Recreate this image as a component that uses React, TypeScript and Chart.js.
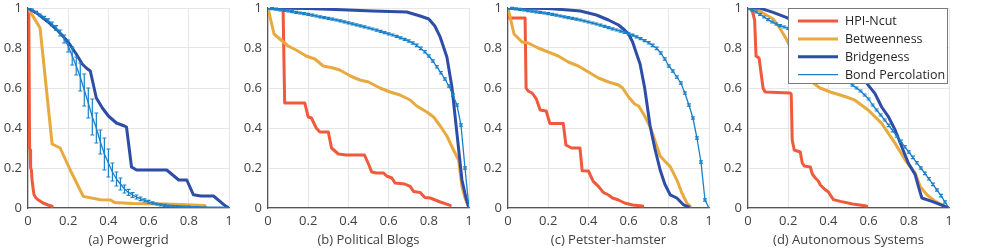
import React, { useEffect, useRef } from "react";
import { Chart, registerables } from "chart.js";

Chart.register(...registerables);

// ---------- shared ----------
const seriesNames = ["HPI-Ncut", "Betweenness", "Bridgeness", "Bond Percolation"];
const seriesColors = ["#F05A3C", "#E8A93E", "#2E4DA7", "#1A80C8"];
const panelTitles = ["(a) Powergrid", "(b) Political Blogs", "(c) Petster-hamster", "(d) Autonomous Systems"];
const tickValues = [0, 0.2, 0.4, 0.6, 0.8, 1];
const tickLabels = ["0", "0.2", "0.4", "0.6", "0.8", "1"];

const bondX = [0, 0.02, 0.04, 0.06, 0.08, 0.1, 0.12, 0.14, 0.16, 0.18, 0.2, 0.22, 0.24, 0.26, 0.28, 0.3, 0.32, 0.34, 0.36, 0.38, 0.4, 0.42, 0.44, 0.46, 0.48, 0.5, 0.52, 0.54, 0.56, 0.58, 0.6, 0.62, 0.64, 0.66, 0.68, 0.7, 0.72, 0.74, 0.76, 0.78, 0.8, 0.82, 0.84, 0.86, 0.88, 0.9, 0.92, 0.94, 0.96, 0.98, 1];

// ---------- (a) Powergrid ----------
const aHpiX = [0, 0.004, 0.008, 0.01, 0.013, 0.017, 0.02, 0.025, 0.03, 0.04, 0.05, 0.075, 0.1, 0.12];
const aHpiY = [1, 0.97, 0.3, 0.29, 0.2, 0.19, 0.14, 0.1, 0.066, 0.05, 0.041, 0.025, 0.015, 0.009];
const aBetX = [0, 0.06, 0.12, 0.16, 0.21, 0.275, 0.36, 0.41, 0.43, 0.52, 0.69, 0.88];
const aBetY = [1, 0.9, 0.32, 0.3, 0.19, 0.058, 0.041, 0.04, 0.028, 0.022, 0.02, 0.012];
const aBriX = [0, 0.05, 0.1, 0.15, 0.2, 0.24, 0.27, 0.29, 0.31, 0.34, 0.37, 0.4, 0.44, 0.48, 0.49, 0.515, 0.54, 0.69, 0.75, 0.79, 0.823, 0.86, 0.923, 0.98, 1];
const aBriY = [1, 0.97, 0.93, 0.885, 0.83, 0.77, 0.72, 0.7, 0.685, 0.55, 0.5, 0.46, 0.425, 0.41, 0.405, 0.205, 0.19, 0.19, 0.14, 0.14, 0.066, 0.06, 0.06, 0.012, 0];
const aBondY = [1, 0.99, 0.978, 0.965, 0.952, 0.938, 0.92, 0.9, 0.875, 0.845, 0.81, 0.76, 0.71, 0.655, 0.59, 0.525, 0.455, 0.4, 0.33, 0.27, 0.225, 0.18, 0.145, 0.12, 0.095, 0.078, 0.065, 0.055, 0.046, 0.038, 0.031, 0.025, 0.02, 0.016, 0.013, 0.011, 0.009, 0.008, 0.007, 0.006, 0.005, 0.004, 0.004, 0.003, 0.003, 0.002, 0.002, 0.001, 0.001, 0.0005, 0];
const aBondErr = [0, 0.005, 0.005, 0.005, 0.006, 0.008, 0.01, 0.012, 0.015, 0.02, 0.03, 0.045, 0.045, 0.07, 0.08, 0.075, 0.09, 0.075, 0.06, 0.08, 0.07, 0.045, 0.035, 0.03, 0.02, 0.015, 0.012, 0.01, 0.009, 0.008, 0.007, 0.006, 0.005, 0.005, 0.005, 0.004, 0.004, 0.004, 0.004, 0.004, 0.004, 0.003, 0.003, 0.003, 0.003, 0.003, 0.003, 0.003, 0.003, 0.003, 0];

// ---------- (b) Political Blogs ----------
const bHpiX = [0, 0.075, 0.083, 0.183, 0.2, 0.216, 0.24, 0.258, 0.3, 0.316, 0.35, 0.39, 0.48, 0.5, 0.516, 0.54, 0.575, 0.59, 0.616, 0.632, 0.68, 0.707, 0.724, 0.757, 0.78, 0.807, 0.857, 0.907];
const bHpiY = [1, 1, 0.525, 0.525, 0.455, 0.45, 0.4, 0.38, 0.38, 0.3, 0.27, 0.265, 0.265, 0.22, 0.18, 0.175, 0.175, 0.16, 0.15, 0.125, 0.12, 0.108, 0.083, 0.078, 0.053, 0.05, 0.03, 0.013];
const bBetX = [0, 0.03, 0.1, 0.14, 0.19, 0.233, 0.275, 0.324, 0.357, 0.41, 0.457, 0.5, 0.557, 0.607, 0.657, 0.707, 0.74, 0.79, 0.824, 0.857, 0.89, 0.923, 0.948, 0.965, 0.98, 1];
const bBetY = [1, 0.87, 0.81, 0.79, 0.76, 0.745, 0.71, 0.7, 0.69, 0.66, 0.64, 0.63, 0.6, 0.58, 0.565, 0.54, 0.51, 0.48, 0.455, 0.41, 0.36, 0.29, 0.24, 0.108, 0.05, 0];
const bBriX = [0, 0.2, 0.4, 0.52, 0.69, 0.757, 0.8, 0.83, 0.857, 0.89, 0.915, 0.94, 0.965, 0.985, 1];
const bBriY = [1, 0.998, 0.99, 0.985, 0.98, 0.96, 0.945, 0.91, 0.854, 0.755, 0.605, 0.373, 0.14, 0.05, 0];
const bBondY = [1, 0.997, 0.994, 0.991, 0.988, 0.985, 0.982, 0.978, 0.975, 0.972, 0.968, 0.964, 0.96, 0.956, 0.952, 0.948, 0.944, 0.94, 0.936, 0.931, 0.926, 0.921, 0.916, 0.911, 0.906, 0.9, 0.895, 0.889, 0.883, 0.877, 0.871, 0.865, 0.858, 0.851, 0.843, 0.835, 0.825, 0.813, 0.798, 0.781, 0.76, 0.735, 0.706, 0.676, 0.645, 0.61, 0.565, 0.515, 0.415, 0.2, 0];
const smallErr = [0, 0.005, 0.005, 0.005, 0.005, 0.005, 0.005, 0.005, 0.005, 0.005, 0.005, 0.005, 0.005, 0.005, 0.005, 0.005, 0.005, 0.005, 0.005, 0.005, 0.005, 0.005, 0.005, 0.005, 0.005, 0.005, 0.005, 0.005, 0.005, 0.005, 0.005, 0.005, 0.005, 0.005, 0.005, 0.006, 0.006, 0.006, 0.006, 0.006, 0.006, 0.006, 0.006, 0.006, 0.006, 0.006, 0.006, 0.006, 0.006, 0.006, 0];

// ---------- (c) Petster-hamster ----------
const cHpiX = [0, 0.005, 0.085, 0.09, 0.1, 0.12, 0.14, 0.16, 0.19, 0.208, 0.275, 0.288, 0.316, 0.358, 0.369, 0.4, 0.424, 0.45, 0.474, 0.5, 0.52, 0.55, 0.58, 0.62, 0.67];
const cHpiY = [1, 0.95, 0.95, 0.6, 0.585, 0.575, 0.547, 0.49, 0.485, 0.423, 0.423, 0.315, 0.3, 0.3, 0.186, 0.185, 0.133, 0.108, 0.078, 0.065, 0.05, 0.04, 0.025, 0.015, 0.01];
const cBetX = [0, 0.03, 0.07, 0.1, 0.15, 0.2, 0.25, 0.3, 0.35, 0.4, 0.45, 0.5, 0.55, 0.57, 0.6, 0.63, 0.65, 0.68, 0.707, 0.73, 0.757, 0.78, 0.807, 0.84, 0.865, 0.89, 0.906];
const cBetY = [1, 0.87, 0.83, 0.825, 0.8, 0.78, 0.76, 0.73, 0.71, 0.68, 0.65, 0.63, 0.615, 0.6, 0.555, 0.52, 0.51, 0.46, 0.406, 0.34, 0.26, 0.235, 0.207, 0.141, 0.075, 0.025, 0.01];
const cBriX = [0, 0.2, 0.3, 0.36, 0.44, 0.5, 0.55, 0.58, 0.6, 0.62, 0.64, 0.657, 0.68, 0.707, 0.73, 0.757, 0.78, 0.807, 0.84, 0.873, 0.9];
const cBriY = [1, 0.998, 0.99, 0.985, 0.965, 0.94, 0.915, 0.89, 0.87, 0.83, 0.77, 0.72, 0.6, 0.41, 0.3, 0.19, 0.12, 0.066, 0.05, 0.016, 0.005];
const cBondY = [1, 0.998, 0.996, 0.993, 0.99, 0.987, 0.984, 0.981, 0.978, 0.975, 0.972, 0.968, 0.964, 0.96, 0.956, 0.952, 0.948, 0.944, 0.94, 0.935, 0.93, 0.925, 0.92, 0.914, 0.908, 0.902, 0.896, 0.89, 0.884, 0.878, 0.871, 0.864, 0.856, 0.847, 0.837, 0.826, 0.813, 0.798, 0.775, 0.745, 0.71, 0.685, 0.655, 0.625, 0.575, 0.515, 0.45, 0.35, 0.23, 0.04, 0];

// ---------- (d) Autonomous Systems ----------
const dHpiX = [0, 0.02, 0.033, 0.04, 0.055, 0.075, 0.085, 0.21, 0.215, 0.22, 0.23, 0.26, 0.27, 0.28, 0.31, 0.32, 0.335, 0.35, 0.36, 0.38, 0.4, 0.425, 0.46, 0.52, 0.59];
const dHpiY = [1, 0.99, 0.94, 0.76, 0.75, 0.6, 0.58, 0.575, 0.57, 0.34, 0.29, 0.28, 0.225, 0.21, 0.205, 0.17, 0.15, 0.135, 0.115, 0.095, 0.08, 0.042, 0.033, 0.02, 0.01];
const dBetX = [0, 0.058, 0.125, 0.158, 0.19, 0.25, 0.308, 0.358, 0.41, 0.49, 0.532, 0.599, 0.665, 0.732, 0.782, 0.832, 0.857, 0.89, 0.932, 0.98, 1];
const dBetY = [1, 0.985, 0.945, 0.9, 0.846, 0.72, 0.638, 0.6, 0.58, 0.555, 0.539, 0.489, 0.423, 0.323, 0.24, 0.174, 0.107, 0.066, 0.033, 0.008, 0];
const dBriX = [0, 0.058, 0.125, 0.19, 0.3, 0.4, 0.5, 0.56, 0.599, 0.632, 0.665, 0.699, 0.732, 0.765, 0.798, 0.832, 0.848, 0.865, 0.915, 0.98, 1];
const dBriY = [1, 1, 0.978, 0.953, 0.9, 0.83, 0.74, 0.67, 0.613, 0.572, 0.505, 0.456, 0.39, 0.306, 0.224, 0.166, 0.107, 0.05, 0.033, 0.008, 0];
const dBondY = [1, 0.99, 0.98, 0.968, 0.955, 0.942, 0.93, 0.92, 0.912, 0.905, 0.898, 0.885, 0.87, 0.855, 0.84, 0.825, 0.81, 0.793, 0.775, 0.757, 0.738, 0.718, 0.698, 0.677, 0.655, 0.633, 0.614, 0.6, 0.585, 0.565, 0.545, 0.515, 0.49, 0.465, 0.44, 0.413, 0.387, 0.36, 0.333, 0.306, 0.28, 0.253, 0.226, 0.2, 0.173, 0.146, 0.118, 0.09, 0.062, 0.03, 0];

type Panel = {
  title: string;
  hpi: [number[], number[]];
  bet: [number[], number[]];
  bri: [number[], number[]];
  bond: [number[], number[], number[]];
  legend: boolean;
};

const panels: Panel[] = [
  { title: panelTitles[0], hpi: [aHpiX, aHpiY], bet: [aBetX, aBetY], bri: [aBriX, aBriY], bond: [bondX, aBondY, aBondErr], legend: false },
  { title: panelTitles[1], hpi: [bHpiX, bHpiY], bet: [bBetX, bBetY], bri: [bBriX, bBriY], bond: [bondX, bBondY, smallErr], legend: false },
  { title: panelTitles[2], hpi: [cHpiX, cHpiY], bet: [cBetX, cBetY], bri: [cBriX, cBriY], bond: [bondX, cBondY, smallErr], legend: false },
  { title: panelTitles[3], hpi: [dHpiX, dHpiY], bet: [dBetX, dBetY], bri: [dBriX, dBriY], bond: [bondX, dBondY, smallErr], legend: true },
];

const FONT = "'Open Sans', 'Noto Sans', sans-serif";
const TEXT = "#404040";

const zip = (xs: number[], ys: number[]) => xs.map((x, i) => ({ x, y: ys[i] }));

const errorBarPlugin = {
  id: "errorBars",
  afterDatasetsDraw(chart: any) {
    const { ctx, chartArea } = chart;
    const xs = chart.scales.x;
    const ys = chart.scales.y;
    ctx.save();
    ctx.beginPath();
    ctx.rect(chartArea.left, chartArea.top - 2, chartArea.right - chartArea.left + 2, chartArea.bottom - chartArea.top + 2);
    ctx.clip();
    chart.data.datasets.forEach((ds: any) => {
      const errs: number[] | undefined = ds.errors;
      if (!errs) return;
      ctx.strokeStyle = ds.borderColor;
      ctx.lineWidth = 1.2;
      ds.data.forEach((p: any, j: number) => {
        const e = errs[j];
        if (!e) return;
        const px = xs.getPixelForValue(p.x);
        const yt = ys.getPixelForValue(p.y + e);
        const yb = ys.getPixelForValue(p.y - e);
        ctx.beginPath();
        ctx.moveTo(px, yt);
        ctx.lineTo(px, yb);
        ctx.moveTo(px - 2, yt);
        ctx.lineTo(px + 2, yt);
        ctx.moveTo(px - 2, yb);
        ctx.lineTo(px + 2, yb);
        ctx.stroke();
      });
    });
    ctx.restore();
  },
};

const boxLegendPlugin = {
  id: "boxLegend",
  afterDraw(chart: any) {
    if (!chart.options.plugins.boxLegend?.show) return;
    const { ctx, chartArea } = chart;
    const w = 160;
    const h = 76;
    const left = chartArea.right - w - 1;
    const top = chartArea.top;
    ctx.save();
    ctx.fillStyle = "#ffffff";
    ctx.fillRect(left, top, w, h);
    ctx.strokeStyle = "#7a7a7a";
    ctx.lineWidth = 1;
    ctx.strokeRect(left + 0.5, top + 0.5, w - 1, h - 1);
    ctx.font = `12.5px ${FONT}`;
    ctx.textBaseline = "middle";
    ctx.textAlign = "left";
    chart.data.datasets.forEach((ds: any, i: number) => {
      const y = top + 13 + i * 17.9;
      ctx.strokeStyle = ds.borderColor;
      ctx.lineWidth = ds.borderWidth;
      ctx.beginPath();
      ctx.moveTo(left + 10, y);
      ctx.lineTo(left + 50, y);
      ctx.stroke();
      ctx.fillStyle = "#262626";
      ctx.fillText(ds.label, left + 57, y + 0.5);
    });
    ctx.restore();
  },
};

function PanelChart({ panel, left }: { panel: Panel; left: number }) {
  const ref = useRef<HTMLCanvasElement | null>(null);
  useEffect(() => {
    if (!ref.current) return;
    const mk = (idx: number, data: any[], width: number, order: number, extra: any = {}) => ({
      label: seriesNames[idx],
      data,
      borderColor: seriesColors[idx],
      backgroundColor: seriesColors[idx],
      borderWidth: width,
      pointRadius: 0,
      pointHoverRadius: 0,
      tension: 0,
      fill: false,
      borderJoinStyle: "round",
      borderCapStyle: "round",
      order,
      ...extra,
    });
    const tickCb = (v: any) => tickLabels[tickValues.indexOf(Math.round(Number(v) * 10) / 10)] ?? "";
    const chart = new Chart(ref.current, {
      type: "line",
      data: {
        datasets: [
          mk(0, zip(panel.hpi[0], panel.hpi[1]), 3, 3),
          mk(1, zip(panel.bet[0], panel.bet[1]), 3, 2),
          mk(2, zip(panel.bri[0], panel.bri[1]), 3, 1),
          mk(3, zip(panel.bond[0], panel.bond[1]), 1.3, 0, { errors: panel.bond[2] }),
        ] as any,
      },
      options: {
        animation: false,
        responsive: false,
        events: [],
        layout: { padding: { left: 0, right: 11, top: 8, bottom: 0 } },
        plugins: {
          legend: { display: false },
          tooltip: { enabled: false },
          boxLegend: { show: panel.legend },
        } as any,
        scales: {
          x: {
            type: "linear",
            min: 0,
            max: 1,
            afterBuildTicks: (s: any) => {
              s.ticks = tickValues.map((v) => ({ value: v }));
            },
            afterFit: (s: any) => {
              s.height = 42;
              s.paddingLeft = 0;
              s.paddingRight = 0;
            },
            ticks: {
              callback: tickCb,
              font: { family: FONT, size: 13 },
              color: TEXT,
              padding: 5,
              maxRotation: 0,
            },
            grid: { color: "#e6e6e6", lineWidth: 1, drawTicks: false },
            border: { color: "#555555", width: 1.2 },
            title: {
              display: true,
              text: panel.title,
              font: { family: FONT, size: 13 },
              color: TEXT,
              padding: { top: 0, bottom: 2 },
            },
          },
          y: {
            type: "linear",
            min: 0,
            max: 1,
            afterBuildTicks: (s: any) => {
              s.ticks = tickValues.map((v) => ({ value: v }));
            },
            afterFit: (s: any) => {
              s.width = 28;
              s.paddingTop = 0;
              s.paddingBottom = 0;
            },
            ticks: {
              callback: tickCb,
              font: { family: FONT, size: 13 },
              color: TEXT,
              padding: 6,
            },
            grid: { color: "#e6e6e6", lineWidth: 1, drawTicks: false },
            border: { color: "#555555", width: 1.2 },
          },
        },
      } as any,
      plugins: [errorBarPlugin, boxLegendPlugin],
    });
    return () => chart.destroy();
  }, [panel]);
  return (
    <canvas
      ref={ref}
      width={240}
      height={250}
      style={{ position: "absolute", left, top: 0, width: 240, height: 250 }}
    />
  );
}

export default function App() {
  return (
    <div style={{ position: "absolute", left: 0, top: 0, width: 981, height: 250, background: "#ffffff" }}>
      {panels.map((p, i) => (
        <PanelChart key={i} panel={p} left={i * 240} />
      ))}
    </div>
  );
}
